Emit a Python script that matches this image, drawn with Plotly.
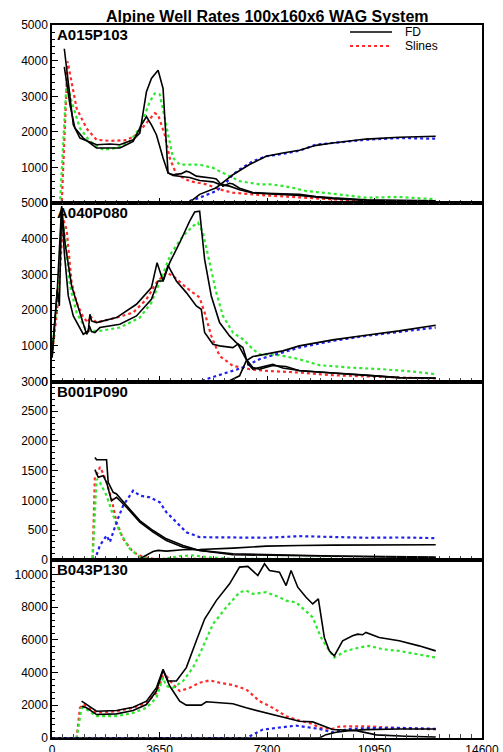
import plotly.graph_objects as go
from plotly.subplots import make_subplots

# ---------------- data (days vs rate) ----------------
panel_names = ["A015P103", "A040P080", "B001P090", "B043P130"]
x_ticks = [0, 3650, 7300, 10950, 14600]
y_ranges = [[0, 5000], [0, 5000], [0, 3000], [0, 10900]]
y_dticks = [1000, 1000, 500, 2000]
legend_names = ["FD", "Slines"]

# Panel 1  A015P103
p1_fd_oil_x = [418, 610, 779, 1062, 1513, 1965, 2303, 2529, 2755, 3037, 3207, 3376, 3545, 3771, 3940, 4110, 4392, 4674, 5013, 5465, 5690, 6029, 6368, 6819, 7271, 8400, 9529, 10658, 11787, 13029]
p1_fd_oil_y = [3824, 2757, 2107, 1829, 1550, 1550, 1550, 1643, 1736, 2200, 2432, 2200, 1922, 1271, 850, 780, 760, 720, 640, 600, 530, 480, 380, 290, 270, 220, 130, 80, 55, 45]
p1_fd_gas_x = [418, 553, 723, 949, 1513, 1965, 2303, 2755, 2981, 3207, 3376, 3602, 3771, 3940, 4110, 4392, 4561, 4674, 4900, 5465, 5578, 5690, 5803, 6029, 6142, 6368, 6819, 7271, 7836, 8400, 8965, 9529, 10658, 11787, 13029]
p1_fd_gas_y = [4334, 3313, 2200, 1829, 1643, 1661, 1643, 1782, 1968, 3129, 3499, 3731, 3220, 850, 800, 830, 900, 870, 760, 700, 680, 575, 480, 560, 540, 420, 300, 280, 275, 250, 190, 150, 100, 80, 70]
p1_fd_wat_x = [0, 4561, 4787, 5013, 5578, 5916, 6142, 6707, 7271, 7836, 8400, 8965, 9529, 10658, 11787, 13029]
p1_fd_wat_y = [0, 0, 100, 250, 435, 650, 800, 1085, 1318, 1410, 1485, 1624, 1690, 1800, 1850, 1880]
p1_sl_oil_x = [0, 330, 530, 836, 1174, 1513, 1965, 2529, 2868, 3207, 3489, 3602, 3828, 3997, 4223, 4674, 5239, 5690, 6142, 7271, 8400, 9529, 10658, 11787, 13029]
p1_sl_oil_y = [0, 0, 3980, 2660, 2100, 1780, 1750, 1770, 1920, 2245, 2525, 2480, 1920, 1270, 810, 620, 530, 390, 295, 220, 160, 110, 65, 40, 40]
p1_sl_gas_x = [0, 271, 497, 666, 949, 1287, 1739, 2191, 2642, 2981, 3320, 3489, 3658, 3884, 4110, 4336, 5013, 5465, 5916, 6368, 7045, 7497, 8174, 8626, 9529, 10658, 11787, 13029]
p1_sl_gas_y = [0, 0, 3450, 2850, 2105, 1736, 1503, 1550, 1736, 2107, 2849, 3082, 3054, 2200, 1271, 1085, 1085, 992, 807, 621, 528, 528, 435, 343, 268, 157, 176, 111]
p1_sl_wat_x = [0, 4449, 5013, 5578, 5916, 6142, 6368, 6819, 7271, 7836, 8400, 8965, 9529, 10658, 11787, 13029]
p1_sl_wat_y = [0, 0, 157, 343, 575, 807, 946, 1178, 1318, 1383, 1476, 1643, 1690, 1782, 1829, 1810]

# Panel 2  A040P080
p2_fd_oil_x = [0, 181, 328, 441, 666, 1005, 1174, 1231, 1287, 1344, 1513, 2191, 2868, 3376, 3568, 3771, 3940, 4223, 4561, 4900, 5069, 5182, 5465, 5690, 6142, 6311, 6594, 6819, 7045, 7497, 7723, 7948, 8400, 9529, 10658, 11787, 13029]
p2_fd_oil_y = [672, 2586, 4921, 3893, 2680, 1800, 1326, 1400, 1886, 1700, 1653, 1793, 2166, 2633, 3333, 2820, 3259, 2820, 2493, 2119, 2026, 1373, 1046, 999, 952, 1046, 626, 392, 345, 450, 430, 420, 300, 250, 180, 110, 100]
p2_fd_gas_x = [0, 181, 249, 328, 418, 553, 723, 1062, 1231, 1265, 1344, 1457, 1626, 2303, 2868, 3376, 3602, 3771, 3997, 4336, 4674, 4843, 5013, 5182, 5408, 5690, 6029, 6255, 6481, 6650, 6819, 7045, 7271, 7497, 7836, 8400, 9529, 10658, 11787, 13029]
p2_fd_gas_y = [672, 2586, 2119, 4874, 3613, 2400, 1839, 1326, 1419, 1560, 1400, 1373, 1513, 1606, 1839, 2306, 2820, 2820, 3333, 3893, 4500, 4753, 4780, 3427, 2400, 1653, 1279, 1092, 952, 500, 345, 390, 440, 480, 380, 310, 240, 170, 110, 90]
p2_fd_wat_x = [0, 5916, 6029, 6368, 6594, 6819, 7271, 7836, 8400, 8965, 9529, 10658, 11787, 13029]
p2_fd_wat_y = [0, 0, 19, 159, 579, 700, 766, 859, 999, 1092, 1167, 1298, 1420, 1578]
p2_sl_oil_x = [0, 215, 328, 384, 497, 666, 836, 1062, 1231, 1287, 1513, 2191, 2755, 3207, 3545, 3884, 4110, 4561, 5013, 5182, 5408, 5690, 6142, 6707, 7271, 8400, 9529, 10658, 11787, 13029]
p2_sl_oil_y = [720, 2306, 3893, 4547, 4267, 2773, 2213, 1793, 1653, 1839, 1653, 1793, 1933, 2306, 2773, 3053, 2960, 2633, 2353, 1933, 1279, 719, 439, 345, 299, 252, 177, 140, 112, 84]
p2_sl_gas_x = [0, 215, 328, 441, 610, 836, 1174, 1626, 2303, 2981, 3376, 3771, 4053, 4449, 4787, 4957, 5126, 5352, 5578, 5803, 6142, 6481, 6819, 7045, 7723, 8400, 9078, 10094, 11223, 12352, 13029]
p2_sl_gas_y = [765, 2680, 4640, 4080, 2680, 1933, 1419, 1419, 1513, 1793, 2213, 3053, 3613, 4080, 4360, 4454, 4174, 3333, 2493, 1839, 1373, 1186, 906, 766, 738, 625, 457, 392, 345, 270, 205]
p2_sl_wat_x = [0, 5013, 5239, 5916, 6481, 7045, 7836, 8400, 9529, 10658, 11787, 13029]
p2_sl_wat_y = [0, 0, 65, 252, 392, 626, 812, 952, 1139, 1279, 1391, 1513]

# Panel 3  B001P090
p3_fd_oil_x = [1457, 1513, 1852, 1908, 2078, 2191, 2529, 2981, 3432, 3884, 4449, 5013, 6142, 7271, 9529, 13029]
p3_fd_oil_y = [1722, 1683, 1683, 1303, 1135, 1107, 912, 660, 492, 352, 240, 157, 100, 84, 62, 45]
p3_fd_gas_x = [1457, 1570, 1739, 1852, 2021, 2191, 2529, 2981, 3432, 3884, 4449, 5013, 6142, 9529, 13029]
p3_fd_gas_y = [1516, 1387, 1415, 1303, 995, 1051, 884, 632, 464, 324, 212, 157, 84, 62, 34]
p3_fd_wat_x = [0, 2755, 2981, 3207, 3432, 3602, 3884, 4449, 5013, 6142, 7271, 8400, 9529, 13029]
p3_fd_wat_y = [0, 0, 17, 73, 140, 157, 145, 168, 173, 196, 229, 240, 246, 252]
p3_sl_oil_x = [0, 1378, 1457, 1570, 1626, 1739, 1852, 2021, 2191, 2416, 2755, 3094, 3432, 13029]
p3_sl_oil_y = [0, 0, 1400, 1480, 1560, 1450, 1300, 1023, 632, 352, 129, 45, 17, 0]
p3_sl_gas_x = [0, 1378, 1513, 1626, 1852, 2078, 2303, 2642, 2981, 3432, 3884, 4336, 4787, 5239, 6142, 13029]
p3_sl_gas_y = [0, 0, 1359, 1303, 1080, 744, 464, 185, 45, 0, 20, 62, 73, 45, 17, 10]
p3_sl_wat_x = [0, 1457, 1626, 1852, 1965, 2191, 2416, 2755, 2981, 3320, 3658, 3884, 4223, 4561, 5013, 6142, 7271, 8400, 9529, 10658, 11787, 13029]
p3_sl_wat_y = [0, 0, 240, 408, 296, 632, 912, 1163, 1080, 1051, 968, 800, 632, 464, 380, 380, 370, 397, 385, 370, 375, 364]

# Panel 4  B043P130
p4_fd_oil_x = [1005, 1174, 1513, 2191, 2755, 3207, 3545, 3771, 3997, 4336, 4561, 5069, 5239, 5690, 6142, 6594, 7045, 7497, 7948, 8400, 8852, 9078, 9529, 10330, 11008, 12000, 13029]
p4_fd_oil_y = [1946, 1844, 1434, 1475, 1680, 2049, 2868, 4139, 3176, 2254, 2008, 2008, 2213, 2151, 2090, 1844, 1639, 1475, 1229, 1025, 984, 820, 520, 450, 190, 110, 61]
p4_fd_gas_x = [1005, 1174, 1513, 2191, 2755, 3207, 3545, 3771, 3940, 4223, 4561, 4900, 5182, 5578, 6029, 6368, 6650, 6989, 7215, 7384, 7723, 7948, 8118, 8344, 8626, 8852, 9044, 9247, 9416, 9585, 9868, 10206, 10376, 10545, 10658, 11110, 11787, 12464, 13029]
p4_fd_gas_y = [2254, 2049, 1639, 1680, 1885, 2254, 3073, 4200, 3483, 3483, 4303, 5942, 7274, 8401, 9426, 10450, 10491, 9938, 10655, 10245, 10143, 9323, 10245, 9221, 8606, 8196, 8503, 6147, 5327, 5020, 5942, 6249, 6352, 6311, 6454, 6147, 5942, 5635, 5327]
p4_fd_wat_x = [0, 9078, 9303, 9642, 10094, 10658, 11787, 13029]
p4_fd_wat_y = [0, 0, 205, 348, 450, 512, 553, 553]
p4_sl_oil_x = [0, 836, 949, 1062, 1513, 2191, 2755, 3207, 3545, 3771, 3884, 4110, 4336, 4674, 5013, 5352, 5690, 6142, 6594, 7045, 7497, 7948, 8400, 8852, 9078, 9529, 9755, 10658, 11787, 13029]
p4_sl_oil_y = [0, 0, 1844, 2049, 1537, 1640, 1844, 2151, 2766, 3790, 3790, 3278, 2868, 3073, 3380, 3524, 3380, 3237, 2971, 2254, 1844, 1332, 1065, 860, 615, 560, 700, 720, 600, 530]
p4_sl_gas_x = [0, 836, 1005, 1174, 1513, 2191, 2755, 3207, 3545, 3771, 3884, 4110, 4449, 4787, 5013, 5465, 5916, 6368, 6594, 6819, 7271, 7723, 7948, 8287, 8852, 9134, 9416, 9585, 9981, 10432, 10771, 11223, 11787, 12352, 13029]
p4_sl_gas_y = [0, 0, 1844, 1742, 1332, 1332, 1537, 1844, 2459, 3688, 3176, 3073, 3483, 4303, 5122, 6967, 7991, 8913, 9016, 8811, 8913, 8606, 8401, 8299, 7376, 6147, 5327, 4918, 5327, 5532, 5635, 5430, 5327, 5122, 4918]
p4_sl_wat_x = [0, 6594, 6819, 7158, 7610, 8287, 8852, 9078, 9529, 10094, 10658, 11787, 13029]
p4_sl_wat_y = [0, 0, 205, 512, 615, 758, 615, 553, 350, 550, 600, 620, 560]

panels = [
    dict(fd=[(p1_fd_oil_x, p1_fd_oil_y), (p1_fd_gas_x, p1_fd_gas_y), (p1_fd_wat_x, p1_fd_wat_y)],
         sl=[(p1_sl_oil_x, p1_sl_oil_y), (p1_sl_gas_x, p1_sl_gas_y), (p1_sl_wat_x, p1_sl_wat_y)]),
    dict(fd=[(p2_fd_oil_x, p2_fd_oil_y), (p2_fd_gas_x, p2_fd_gas_y), (p2_fd_wat_x, p2_fd_wat_y)],
         sl=[(p2_sl_oil_x, p2_sl_oil_y), (p2_sl_gas_x, p2_sl_gas_y), (p2_sl_wat_x, p2_sl_wat_y)]),
    dict(fd=[(p3_fd_oil_x, p3_fd_oil_y), (p3_fd_gas_x, p3_fd_gas_y), (p3_fd_wat_x, p3_fd_wat_y)],
         sl=[(p3_sl_oil_x, p3_sl_oil_y), (p3_sl_gas_x, p3_sl_gas_y), (p3_sl_wat_x, p3_sl_wat_y)]),
    dict(fd=[(p4_fd_oil_x, p4_fd_oil_y), (p4_fd_gas_x, p4_fd_gas_y), (p4_fd_wat_x, p4_fd_wat_y)],
         sl=[(p4_sl_oil_x, p4_sl_oil_y), (p4_sl_gas_x, p4_sl_gas_y), (p4_sl_wat_x, p4_sl_wat_y)]),
]

sl_colors = ["#ff2a2a", "#2ee82e", "#2020ee"]
FONT = "Liberation Sans, Arial, Helvetica, sans-serif"
W, H = 503, 752
ML, MR, MT, MB = 52, 21, 25, 14
PW, PH = W - ML - MR, H - MT - MB

fig = make_subplots(rows=4, cols=1, shared_xaxes=True, vertical_spacing=0)

for i, p in enumerate(panels):
    row = i + 1
    for k, (xs, ys) in enumerate(p["sl"]):
        fig.add_trace(go.Scatter(
            x=xs, y=ys, mode="lines", name=legend_names[1],
            line=dict(color=sl_colors[k], width=2.2, dash="dot"),
            showlegend=False), row=row, col=1)
    for k, (xs, ys) in enumerate(p["fd"]):
        fig.add_trace(go.Scatter(
            x=xs, y=ys, mode="lines", name=legend_names[0],
            line=dict(color="black", width=1.6),
            showlegend=False), row=row, col=1)

for i in range(4):
    row = i + 1
    fig.update_xaxes(
        range=[0, 14600], tickvals=x_ticks, ticktext=[str(v) for v in x_ticks],
        showticklabels=(row == 4), ticks="inside", ticklen=6, tickcolor="black",
        minor=dict(dtick=365, ticks="inside", ticklen=4, tickcolor="#444"),
        showline=True, linecolor="black", linewidth=1.5, mirror=True,
        showgrid=False, zeroline=False, automargin=False,
        tickfont=dict(family=FONT, size=12, color="black"),
        row=row, col=1)
    fig.update_yaxes(
        range=y_ranges[i], dtick=y_dticks[i], tick0=0, tickformat="d",
        ticks="inside", ticklen=6, tickcolor="black",
        minor=dict(dtick=y_dticks[i] / 5, ticks="inside", ticklen=3, tickcolor="black"),
        showline=True, linecolor="black", linewidth=1.5, mirror=True,
        showgrid=False, zeroline=False, automargin=False,
        tickfont=dict(family=FONT, size=12, color="black"),
        row=row, col=1)


def px_x(px):
    return (px - ML) / PW


def px_y(py):
    return 1 - (py - MT) / PH


annotations = [dict(text="<b>Alpine Well Rates 100x160x6 WAG System</b>",
                    xref="paper", yref="paper", x=0.5, y=1.0, yshift=-2,
                    xanchor="center", yanchor="bottom", showarrow=False,
                    font=dict(family=FONT, size=16, color="black"))]
for i, name in enumerate(panel_names):
    top = 1 - i * 0.25
    annotations.append(dict(text="<b>" + name + "</b>", xref="paper", yref="paper",
                            x=0.0, xshift=3, y=top, yshift=1, xanchor="left", yanchor="top",
                            showarrow=False, font=dict(family=FONT, size=15, color="black")))

# legend (key samples + labels)
shapes = []
leg_rows = [(32, "black", "solid", 1.6), (46, "#ff2a2a", "dot", 2.2)]
for (py, col, dash, wd), label in zip(leg_rows, legend_names):
    shapes.append(dict(type="line", xref="paper", yref="paper",
                       x0=px_x(350), x1=px_x(392), y0=px_y(py), y1=px_y(py),
                       line=dict(color=col, width=wd, dash=dash)))
    annotations.append(dict(text=label, xref="paper", yref="paper",
                            x=px_x(403), y=px_y(py), xanchor="left", yanchor="middle",
                            showarrow=False, font=dict(family=FONT, size=12, color="black")))

fig.update_layout(
    width=W, height=H,
    margin=dict(l=ML, r=MR, t=MT, b=MB),
    paper_bgcolor="white", plot_bgcolor="white",
    annotations=annotations, shapes=shapes,
    showlegend=False,
)

fig.write_html("out.html")
